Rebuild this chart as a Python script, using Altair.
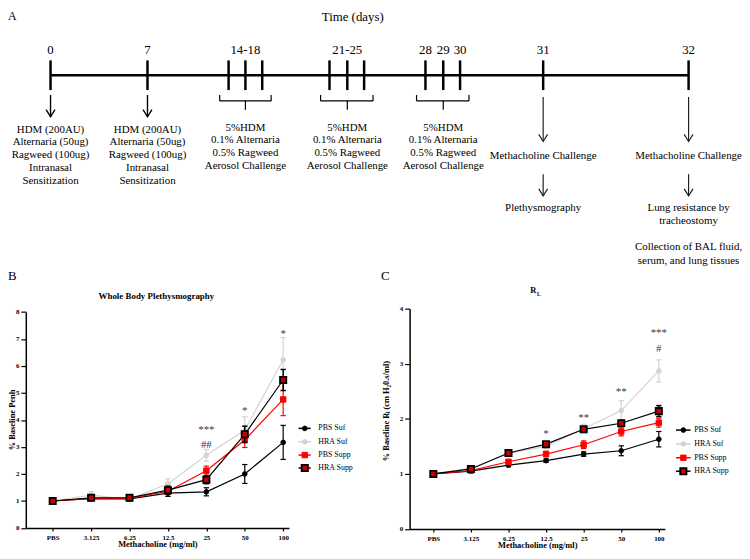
import json
import pandas as pd
import altair as alt

FONT = "Liberation Serif"

# ---------------- Panel A: timeline ----------------
tick_days = [0, 7, 14, 16, 18, 21, 23, 25, 28, 29, 30, 31, 32]
day_labels = ["0", "7", "14-18", "21-25", "28", "29", "30", "31", "32"]
day_label_at = [0, 7, 16, 23, 28, 29, 30, 31, 32]
sens_days = [0, 7]
sens_text = "HDM (200AU)\nAlternaria (50ug)\nRagweed (100ug)\nIntranasal\nSensitization"
chal_start = [14, 21, 28]
chal_end = [18, 25, 30]
chal_mid = [16, 23, 29]
chal_text = "5%HDM\n0.1% Alternaria\n0.5% Ragweed\nAerosol Challenge"
read_days = [31, 32]
read_first = ["Methacholine Challenge", "Methacholine Challenge"]
read_second = ["Plethysmography", "Lung resistance by\ntracheostomy"]
collect_day = [32]
collect_text = ["Collection of BAL fluid,\nserum, and lung tissues"]

# ---------------- Panels B and C ----------------
doses = ["PBS", "3.125", "6.25", "12.5", "25", "50", "100"]
series = ["PBS Suf", "HRA Suf", "PBS Supp", "HRA Supp"]

b_mean = {
    "PBS Suf":  [1.00, 1.09, 1.08, 1.29, 1.34, 2.00, 3.17],
    "HRA Suf":  [1.00, 1.22, 1.06, 1.64, 2.69, 3.63, 6.23],
    "PBS Supp": [1.00, 1.10, 1.10, 1.36, 2.12, 3.26, 4.76],
    "HRA Supp": [1.00, 1.12, 1.12, 1.40, 1.79, 3.47, 5.48],
}
b_err = {
    "PBS Suf":  [0.03, 0.06, 0.06, 0.12, 0.15, 0.35, 0.63],
    "HRA Suf":  [0.03, 0.13, 0.08, 0.18, 0.22, 0.49, 0.82],
    "PBS Supp": [0.02, 0.06, 0.06, 0.10, 0.17, 0.28, 0.60],
    "HRA Supp": [0.03, 0.08, 0.08, 0.15, 0.15, 0.30, 0.39],
}
c_mean = {
    "PBS Suf":  [1.00, 1.05, 1.16, 1.24, 1.36, 1.42, 1.63],
    "HRA Suf":  [1.00, 1.10, 1.37, 1.50, 1.82, 2.15, 2.87],
    "PBS Supp": [1.00, 1.06, 1.22, 1.36, 1.53, 1.77, 1.93],
    "HRA Supp": [1.00, 1.09, 1.38, 1.54, 1.81, 1.92, 2.14],
}
c_err = {
    "PBS Suf":  [0.01, 0.02, 0.03, 0.03, 0.04, 0.09, 0.14],
    "HRA Suf":  [0.01, 0.03, 0.05, 0.05, 0.08, 0.18, 0.20],
    "PBS Supp": [0.01, 0.02, 0.03, 0.05, 0.07, 0.08, 0.08],
    "HRA Supp": [0.01, 0.02, 0.03, 0.04, 0.04, 0.05, 0.10],
}
b_annot_idx = [4, 4, 5, 6]
b_annot_val = [3.63, 3.08, 4.33, 7.2]
b_annot_txt = ["***", "##", "*", "*"]
c_annot_idx = [3, 4, 5, 6, 6]
c_annot_val = [1.73, 2.02, 2.49, 3.55, 3.27]
c_annot_txt = ["*", "**", "**", "***", "#"]

W, H = 742, 543

styles = {
    "PBS Suf":  dict(line="black", shape="circle", fill="black", stroke="black", size=22, sw=1.0),
    "HRA Suf":  dict(line="#d3d3d3", shape="circle", fill="#d3d3d3", stroke="#d3d3d3", size=22, sw=1.0),
    "PBS Supp": dict(line="#ff0000", shape="square", fill="#ff0000", stroke="#ff0000", size=30, sw=1.0),
    "HRA Supp": dict(line="black", shape="square", fill="#c80000", stroke="black", size=40, sw=1.8),
}
draw_order = ["HRA Suf", "PBS Suf", "PBS Supp", "HRA Supp"]

# ---------- timeline layers ----------
day_scale = alt.Scale(domain=tick_days,
                      range=[43, 141, 223, 240, 257, 325, 343, 360, 422, 440, 457, 541, 688],
                      zero=False, nice=False)


def DX(field):
    return alt.X(field, type="quantitative", scale=day_scale, axis=None)


tl = []
tl.append(alt.Chart(pd.DataFrame({"start": [0], "end": [32]})).mark_rule(
    color="black", strokeWidth=2.5).encode(x=DX("start"), x2="end", y=alt.value(65)))
tl.append(alt.Chart(pd.DataFrame({"day": tick_days})).mark_rule(
    color="black", strokeWidth=2.5).encode(x=DX("day"), y=alt.value(50), y2=alt.value(80)))
tl.append(alt.Chart(pd.DataFrame({"day": day_label_at, "lab": day_labels})).mark_text(
    font=FONT, fontSize=13, baseline="middle", color="black").encode(
    x=DX("day"), y=alt.value(40), text="lab:N"))

arrow_head = "M-1,-1.6L0,0L1,-1.6"
sens_df = pd.DataFrame({"day": sens_days, "txt": [sens_text] * len(sens_days)})
tl.append(alt.Chart(sens_df).mark_rule(color="black", strokeWidth=1.4).encode(
    x=DX("day"), y=alt.value(85), y2=alt.value(107)))
tl.append(alt.Chart(sens_df).mark_point(shape=arrow_head, filled=False, size=80, strokeWidth=1.4,
                                        color="black", opacity=1).encode(x=DX("day"), y=alt.value(107)))
tl.append(alt.Chart(sens_df).mark_text(font=FONT, fontSize=11, lineBreak="\n", lineHeight=13,
                                       baseline="top", color="black").encode(
    x=DX("day"), y=alt.value(114), text="txt:N"))

ch_df = pd.DataFrame({"start": chal_start, "end": chal_end, "mid": chal_mid,
                      "txt": [chal_text] * len(chal_start)})
tl.append(alt.Chart(ch_df).mark_rule(color="black", strokeWidth=1.2, xOffset=-9, x2Offset=9).encode(
    x=DX("start"), x2="end", y=alt.value(91)))
tl.append(alt.Chart(ch_df).mark_rule(color="black", strokeWidth=1.2, xOffset=-9).encode(
    x=DX("start"), y=alt.value(85), y2=alt.value(91)))
tl.append(alt.Chart(ch_df).mark_rule(color="black", strokeWidth=1.2, xOffset=9).encode(
    x=DX("end"), y=alt.value(85), y2=alt.value(91)))
tl.append(alt.Chart(ch_df).mark_rule(color="black", strokeWidth=1.2).encode(
    x=DX("mid"), y=alt.value(91), y2=alt.value(100)))
tl.append(alt.Chart(ch_df).mark_text(font=FONT, fontSize=11, lineBreak="\n", lineHeight=13,
                                     baseline="top", color="black").encode(
    x=DX("mid"), y=alt.value(112), text="txt:N"))

rd_df = pd.DataFrame({"day": read_days, "t1": read_first, "t2": read_second})
for y1, y2 in [(87, 132), (165, 187)]:
    tl.append(alt.Chart(rd_df).mark_rule(color="#222222", strokeWidth=1.2).encode(
        x=DX("day"), y=alt.value(y1), y2=alt.value(y2)))
    tl.append(alt.Chart(rd_df).mark_point(shape=arrow_head, filled=False, size=80, strokeWidth=1.2,
                                          color="#222222", opacity=1).encode(x=DX("day"), y=alt.value(y2)))
tl.append(alt.Chart(rd_df).mark_text(font=FONT, fontSize=11, baseline="middle", color="black").encode(
    x=DX("day"), y=alt.value(147), text="t1:N"))
tl.append(alt.Chart(rd_df).mark_text(font=FONT, fontSize=11, lineBreak="\n", lineHeight=13.5,
                                     baseline="top", color="black").encode(
    x=DX("day"), y=alt.value(193), text="t2:N"))
tl.append(alt.Chart(pd.DataFrame({"day": collect_day, "t": collect_text})).mark_text(
    font=FONT, fontSize=11, lineBreak="\n", lineHeight=13.5, baseline="top", color="black").encode(
    x=DX("day"), y=alt.value(233), text="t:N"))
timeline = alt.layer(*tl)


# ---------- chart panels ----------
def panel(means, errs, xdom, xrng, ydom, yrng, yvals, xoff, yoff, ytitle, ytx, yty, xtx, ann):
    xs = alt.Scale(domain=xdom, range=xrng, zero=False, nice=False)
    ys = alt.Scale(domain=ydom, range=yrng, zero=False, nice=False)
    common = dict(labelFont=FONT, labelFontSize=7, labelFontWeight="bold", labelColor="black",
                  tickColor="black", tickWidth=1.2, domainColor="black", domainWidth=1.5,
                  grid=False, titleFont=FONT, titleFontSize=8.5, titleFontWeight="bold",
                  titleColor="black")
    xa = alt.Axis(orient="bottom", offset=xoff, values=list(range(len(doses))),
                  labelExpr=json.dumps(doses) + "[datum.value]", tickSize=3, labelPadding=3,
                  title="Methacholine (mg/ml)", titleX=xtx, titleY=16, titleAlign="center",
                  titleBaseline="middle", **common)
    ya = alt.Axis(orient="left", offset=yoff, values=yvals, tickSize=5, labelPadding=2,
                  title=ytitle, titleAngle=270, titleX=ytx, titleY=yty, titleAlign="center",
                  titleBaseline="middle", **common)
    X = alt.X("idx:Q", scale=xs, axis=xa)
    layers = []
    for s in draw_order:
        st = styles[s]
        df = pd.DataFrame({"idx": list(range(len(doses))), "dose": doses,
                           "mean": means[s], "err": errs[s]})
        base = alt.Chart(df).transform_calculate(
            lo="datum.mean - datum.err", hi="datum.mean + datum.err",
            xl="datum.idx - 0.07", xr="datum.idx + 0.07")
        ew = 1.5 if s == "HRA Supp" else 1.2
        layers.append(base.mark_rule(color=st["line"], strokeWidth=ew).encode(
            x=X, y=alt.Y("lo:Q", scale=ys, axis=ya), y2="hi:Q"))
        for f in ["lo", "hi"]:
            layers.append(base.mark_rule(color=st["line"], strokeWidth=ew).encode(
                x=alt.X("xl:Q", scale=xs, axis=xa), x2="xr:Q",
                y=alt.Y(f + ":Q", scale=ys, axis=ya)))
        layers.append(base.mark_line(color=st["line"], strokeWidth=1.2).encode(
            x=X, y=alt.Y("mean:Q", scale=ys, axis=ya)))
        layers.append(base.mark_point(shape=st["shape"], filled=True, fill=st["fill"],
                                      stroke=st["stroke"], strokeWidth=st["sw"], size=st["size"],
                                      opacity=1).encode(
            x=X, y=alt.Y("mean:Q", scale=ys, axis=ya)))
    adf = pd.DataFrame({"idx": ann[0], "val": ann[1], "txt": ann[2]})
    layers.append(alt.Chart(adf).mark_text(font=FONT, fontSize=11, color="#3a3a3a",
                                           baseline="middle").encode(
        x=X, y=alt.Y("val:Q", scale=ys, axis=ya), text="txt:N"))
    return alt.layer(*layers)


panelB = panel(b_mean, b_err, [-0.7, 6.15], [18, 284], [0, 8], [522.7, 304.3],
               list(range(9)), -20.3, -18, "% Baseline Penh", -14, 413, 151,
               (b_annot_idx, b_annot_val, b_annot_txt))
panelC = panel(c_mean, c_err, [-0.63, 6.16], [406, 664], [0, 4], [523.7, 301],
               [0, 1, 2, 3, 4], -19.3, -406, "% Baseline R\u2097 (cm H\u20820.s/ml)", -24, 404, 535,
               (c_annot_idx, c_annot_val, c_annot_txt))


# ---------- legends ----------
def legend(x0, x1, xs, xt, ys):
    out = []
    for s, y in zip(series, ys):
        st = styles[s]
        d = pd.DataFrame({"name": [s]})
        c = alt.Chart(d)
        out.append(c.mark_rule(color=st["line"], strokeWidth=1.5).encode(
            x=alt.value(x0), x2=alt.value(x1), y=alt.value(y)))
        out.append(c.mark_point(shape=st["shape"], filled=True, fill=st["fill"], stroke=st["stroke"],
                                strokeWidth=st["sw"], size=st["size"], opacity=1).encode(
            x=alt.value(xs), y=alt.value(y)))
        out.append(c.mark_text(font=FONT, fontSize=8, align="left", baseline="middle",
                               color="black").encode(x=alt.value(xt), y=alt.value(y), text="name:N"))
    return out


legB = legend(293.7, 306, 300, 313.7, [422, 435.5, 449, 462])
legC = legend(675.3, 690, 682.7, 693.7, [423.7, 437.7, 451.7, 465.3])


# ---------- free text ----------
def txt(s, x, y, size, weight="normal", align="center", baseline="middle"):
    return alt.Chart(pd.DataFrame({"t": [s]})).mark_text(
        font=FONT, fontSize=size, fontWeight=weight, align=align, baseline=baseline,
        color="black").encode(x=alt.value(x), y=alt.value(y), text="t:N")


texts = [
    txt("A", 0, 0, 12, align="left", baseline="top"),
    txt("Time (days)", 348.5, 0, 13, baseline="top"),
    txt("B", 0, 268, 13, align="left"),
    txt("C", 381.5, 268, 13),
    txt("Whole Body Plethysmography", 150, 288, 9, weight="bold"),
    txt("R", 531, 282.5, 8.5, weight="bold"),
    txt("L", 536.5, 286, 5.5, weight="bold"),
]

chart = alt.layer(timeline, panelB, panelC, *legB, *legC, *texts).resolve_scale(
    x="independent", y="independent"
).properties(
    width=W, height=H, padding=0, autosize=alt.AutoSizeParams(type="none"),
    background="white"
).configure_view(stroke=None)

chart.save("out.html", embed_options={"renderer": "svg", "actions": False})
